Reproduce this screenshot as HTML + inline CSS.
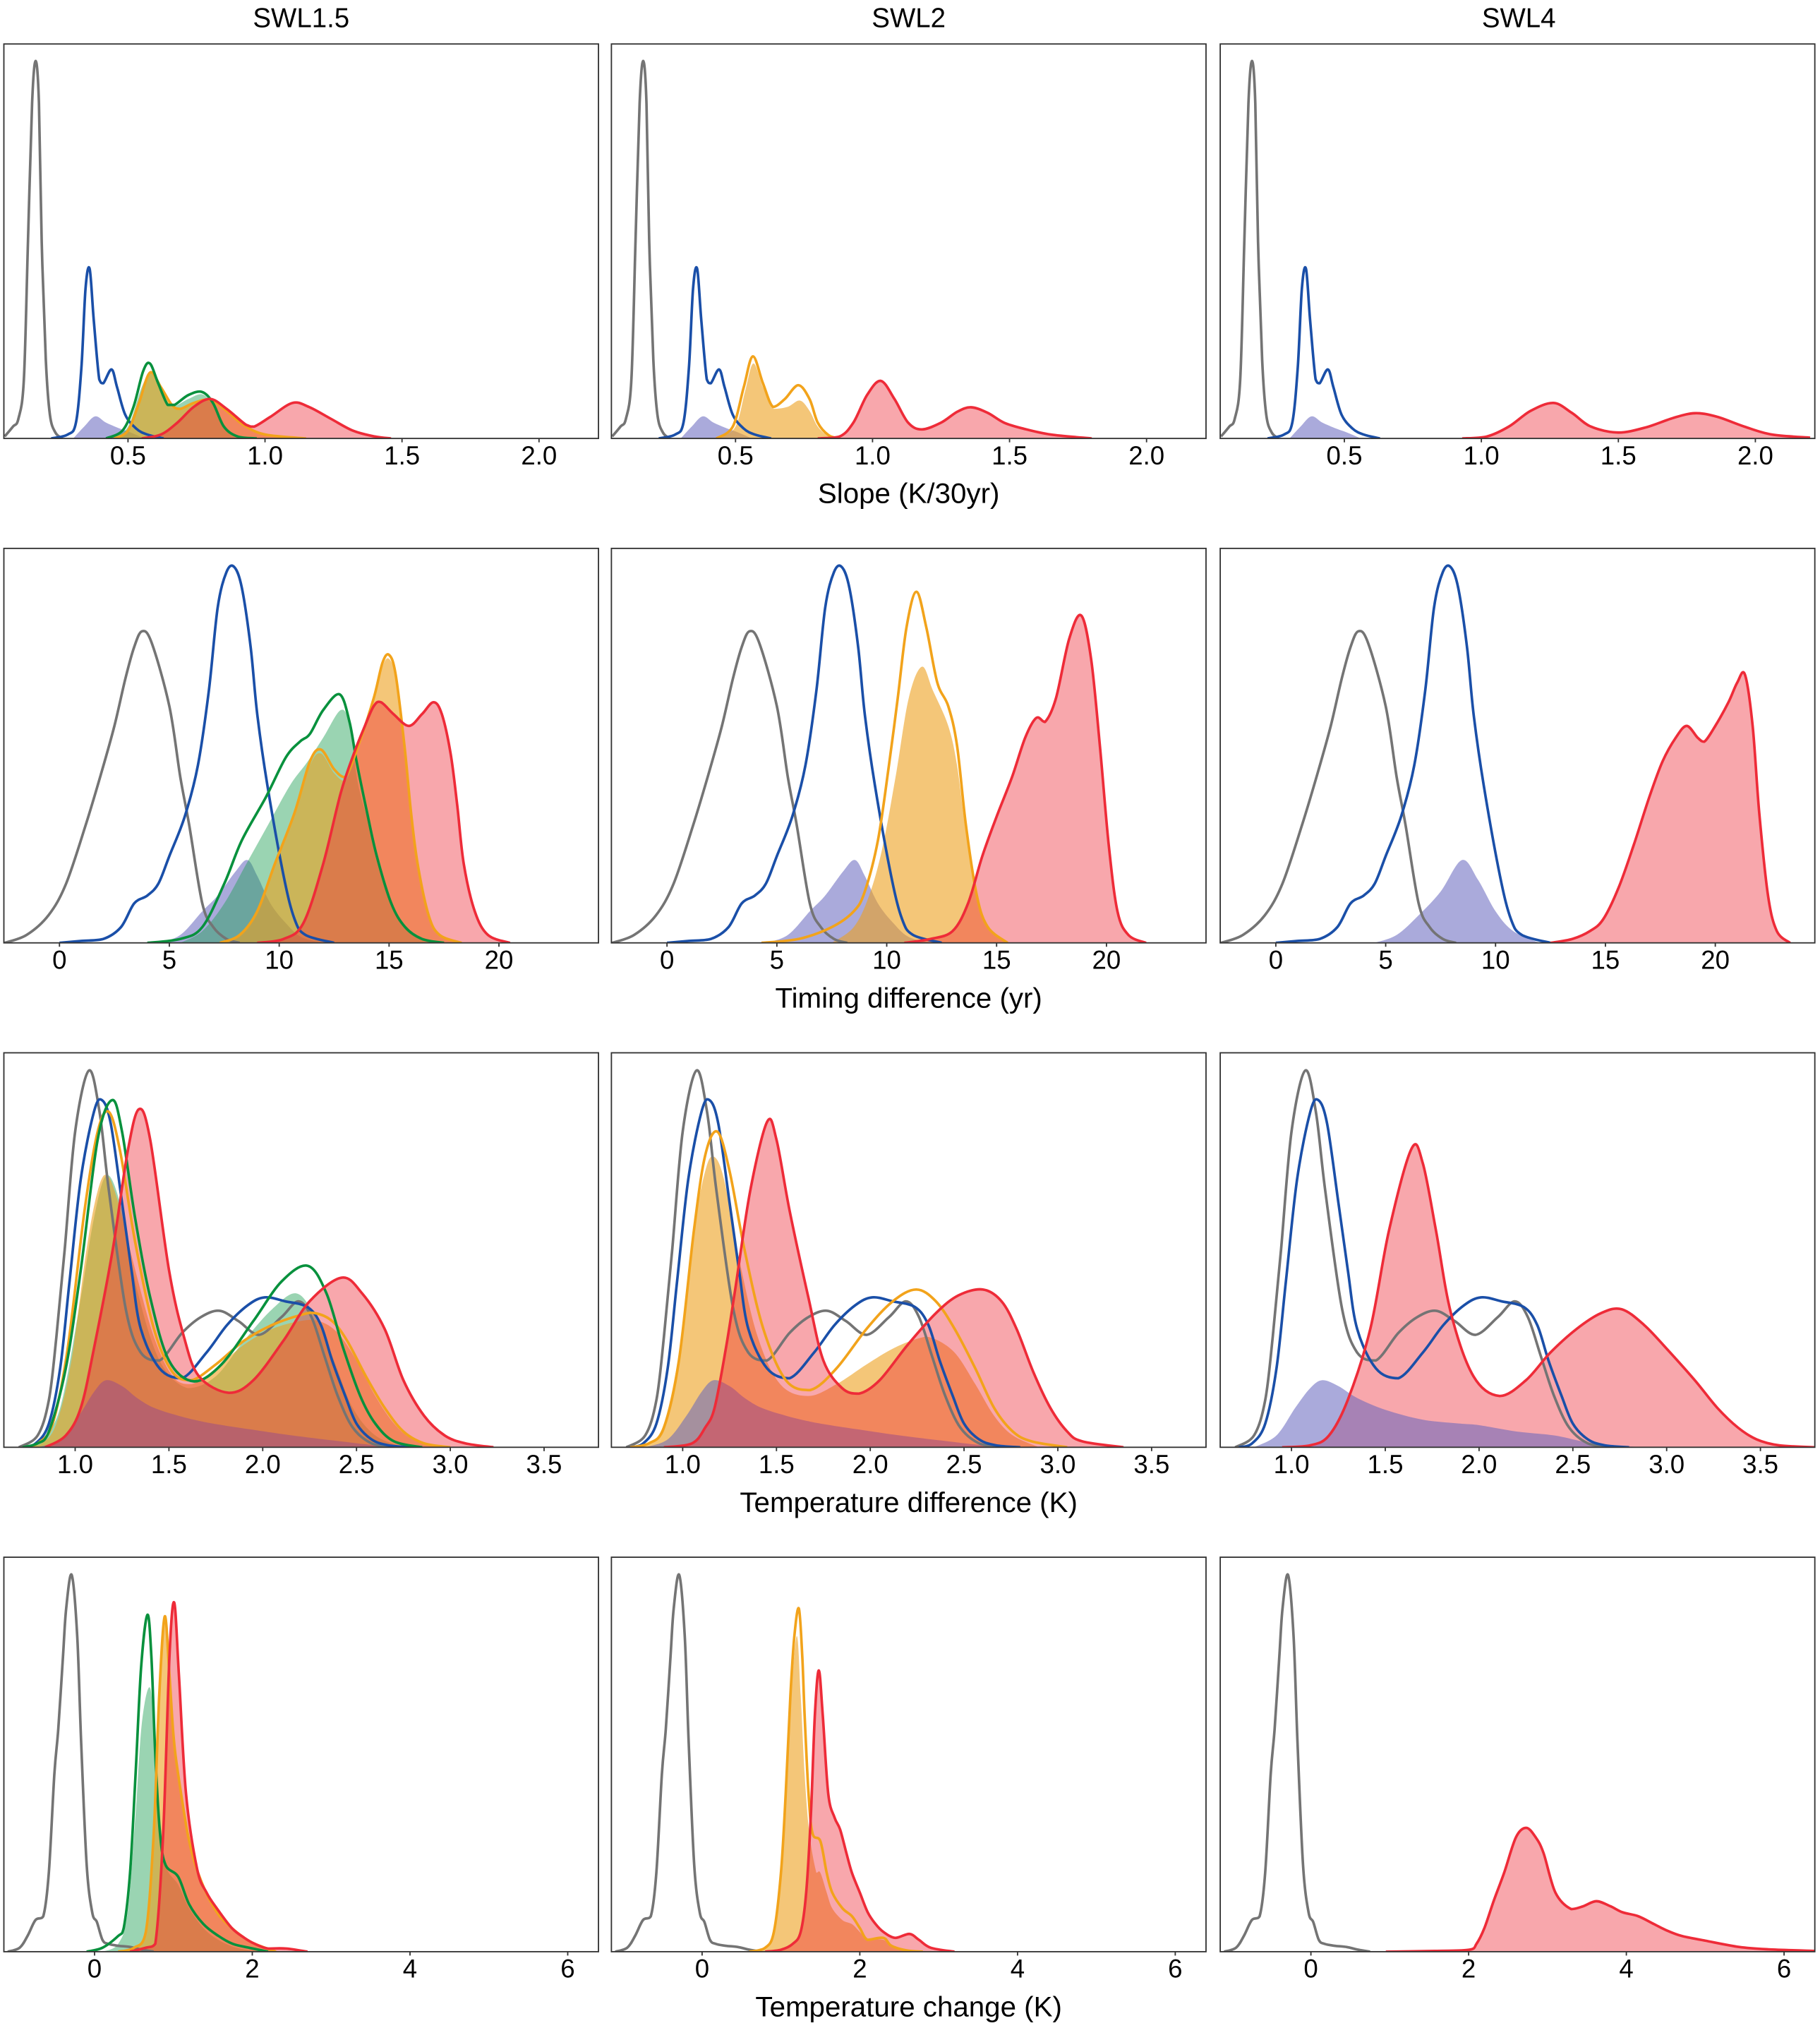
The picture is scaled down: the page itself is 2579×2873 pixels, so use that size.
<!DOCTYPE html>
<html><head><meta charset="utf-8"><title>KDE panels</title>
<style>
html,body{margin:0;padding:0;background:#fff;}
svg{display:block;}
text{font-family:"Liberation Sans Narrow","Liberation Sans",sans-serif;fill:#000;}
</style></head>
<body>
<svg id="fig" xmlns="http://www.w3.org/2000/svg" width="2579" height="2873" viewBox="0 0 1408 1568" preserveAspectRatio="none">
<rect x="0" y="0" width="1408" height="1568" fill="#fff"/>
<text x="233" y="21" font-size="21" text-anchor="middle">SWL1.5</text>
<text x="703" y="21" font-size="21" text-anchor="middle">SWL2</text>
<text x="1175" y="21" font-size="21" text-anchor="middle">SWL4</text>
<text x="703" y="389" font-size="22" text-anchor="middle">Slope (K/30yr)</text>
<text x="703" y="779" font-size="22" text-anchor="middle">Timing difference (yr)</text>
<text x="703" y="1169" font-size="22" text-anchor="middle">Temperature difference (K)</text>
<text x="703" y="1559" font-size="22" text-anchor="middle">Temperature change (K)</text>
<g id="panels"></g>
</svg>
<script>
// ---- axis domains & ticks per row ----
const row1Domain = [0.047, 2.217];
const row1Ticks = [0.5, 1.0, 1.5, 2.0];
const row1TickLabels = ["0.5", "1.0", "1.5", "2.0"];
const row2Domain = [-2.53, 24.53];
const row2Ticks = [0, 5, 10, 15, 20];
const row2TickLabels = ["0", "5", "10", "15", "20"];
const row3Domain = [0.62, 3.79];
const row3Ticks = [1.0, 1.5, 2.0, 2.5, 3.0, 3.5];
const row3TickLabels = ["1.0", "1.5", "2.0", "2.5", "3.0", "3.5"];
const row4Domain = [-1.15, 6.39];
const row4Ticks = [0, 2, 4, 6];
const row4TickLabels = ["0", "2", "4", "6"];

// ---- density series: [value, relative density] ----
const slopeGray = [[0.05,0.005],[0.08,0.03],[0.1,0.05],[0.12,0.15],[0.135,0.5],[0.15,0.85],[0.163,0.957],[0.175,0.85],[0.185,0.5],[0.2,0.2],[0.215,0.06],[0.235,0.015],[0.26,0]];
const slopeBlue = [[0.22,0],[0.28,0.01],[0.31,0.04],[0.33,0.18],[0.345,0.38],[0.36,0.43],[0.375,0.3],[0.395,0.15],[0.41,0.14],[0.44,0.175],[0.46,0.13],[0.49,0.06],[0.53,0.025],[0.57,0.01],[0.63,0]];
const slopeLav = [[0.3,0],[0.34,0.03],[0.38,0.056],[0.42,0.04],[0.47,0.025],[0.51,0.015],[0.56,0]];
const slope1GreenLine = [[0.42,0],[0.48,0.02],[0.52,0.08],[0.555,0.17],[0.58,0.19],[0.61,0.14],[0.645,0.085],[0.67,0.085],[0.72,0.11],[0.77,0.118],[0.81,0.09],[0.85,0.03],[0.9,0.005],[0.97,0]];
const slope1GreenFill = [[0.44,0],[0.5,0.03],[0.55,0.13],[0.585,0.165],[0.62,0.12],[0.66,0.08],[0.72,0.1],[0.77,0.112],[0.81,0.085],[0.85,0.03],[0.9,0.005],[0.97,0]];
const slope1Orange = [[0.45,0],[0.5,0.02],[0.54,0.09],[0.58,0.167],[0.62,0.13],[0.66,0.085],[0.69,0.075],[0.74,0.09],[0.8,0.098],[0.86,0.07],[0.92,0.035],[1.0,0.01],[1.15,0]];
const slope1Red = [[0.55,0],[0.62,0.01],[0.68,0.04],[0.74,0.08],[0.8,0.1],[0.86,0.075],[0.93,0.035],[0.96,0.03],[1.02,0.055],[1.1,0.09],[1.16,0.08],[1.24,0.05],[1.32,0.02],[1.4,0.005],[1.46,0]];
const slope2Orange = [[0.43,0],[0.49,0.03],[0.53,0.13],[0.563,0.208],[0.6,0.14],[0.637,0.08],[0.68,0.1],[0.729,0.135],[0.77,0.1],[0.8,0.04],[0.84,0.008],[0.88,0]];
const slope2OrangeFill = [[0.44,0],[0.5,0.03],[0.535,0.12],[0.565,0.19],[0.6,0.13],[0.64,0.075],[0.69,0.08],[0.735,0.096],[0.77,0.07],[0.8,0.03],[0.84,0.005],[0.88,0]];
const slope2Red = [[0.8,0],[0.88,0.005],[0.93,0.04],[0.98,0.11],[1.03,0.146],[1.08,0.1],[1.13,0.04],[1.18,0.023],[1.25,0.04],[1.31,0.068],[1.36,0.079],[1.42,0.065],[1.48,0.04],[1.55,0.025],[1.65,0.01],[1.8,0]];
const slope3Red = [[0.93,0],[1.02,0.005],[1.1,0.03],[1.18,0.07],[1.263,0.09],[1.33,0.065],[1.4,0.03],[1.5,0.015],[1.6,0.028],[1.7,0.052],[1.78,0.064],[1.86,0.055],[1.96,0.03],[2.06,0.01],[2.2,0.002]];

const timeGray = [[-2.5,0],[-1.5,0.02],[-0.5,0.07],[0.3,0.15],[1.2,0.3],[1.9,0.43],[2.5,0.55],[3.0,0.67],[3.4,0.75],[3.76,0.79],[4.2,0.76],[5.0,0.6],[5.5,0.42],[5.9,0.3],[6.5,0.1],[7.0,0.04],[7.6,0.01],[8.2,0]];
const timeBlue = [[0,0],[1.0,0.005],[2.0,0.01],[2.8,0.04],[3.4,0.1],[4.0,0.12],[4.5,0.15],[5.0,0.22],[5.7,0.32],[6.3,0.45],[6.8,0.64],[7.2,0.85],[7.6,0.94],[7.95,0.953],[8.3,0.9],[8.7,0.75],[9.0,0.58],[9.46,0.4],[10.2,0.17],[10.7,0.06],[11.2,0.02],[12.5,0]];
const timeLav = [[4.5,0],[5.5,0.02],[6.5,0.08],[7.2,0.12],[8.0,0.18],[8.55,0.21],[9.0,0.17],[9.6,0.1],[10.3,0.05],[11.0,0.015],[12,0]];
const timeLav3 = [[4.5,0],[5.5,0.02],[6.5,0.07],[7.5,0.13],[8.47,0.21],[9.2,0.16],[10.0,0.08],[10.8,0.03],[12,0]];
const time1GreenLine = [[4.0,0],[5.5,0.01],[6.5,0.04],[7.5,0.15],[8.3,0.26],[9.4,0.37],[10.3,0.47],[10.94,0.51],[11.4,0.53],[12.0,0.59],[12.75,0.63],[13.2,0.56],[13.52,0.46],[14.0,0.33],[14.44,0.22],[15.1,0.1],[15.73,0.04],[16.5,0.01],[17.5,0]];
const time1GreenFill = [[5.5,0],[6.5,0.03],[7.5,0.1],[8.5,0.2],[9.5,0.3],[10.5,0.4],[11.3,0.46],[12.0,0.52],[12.8,0.59],[13.2,0.55],[13.6,0.4],[14.2,0.28],[14.8,0.16],[15.5,0.06],[16.5,0.01],[17.5,0]];
const time1Orange = [[7.3,0],[8.2,0.02],[9.0,0.08],[9.8,0.2],[10.7,0.33],[11.4,0.46],[11.9,0.49],[12.5,0.44],[13.0,0.42],[13.6,0.5],[14.3,0.62],[14.7,0.71],[15.0,0.73],[15.3,0.68],[15.7,0.5],[16.0,0.33],[16.3,0.2],[16.8,0.07],[17.3,0.02],[18.3,0]];
const time1OrangeFill = [[7.3,0],[8.2,0.02],[9.0,0.08],[9.8,0.2],[10.7,0.33],[11.4,0.45],[11.9,0.48],[12.5,0.43],[13.0,0.41],[13.6,0.49],[14.3,0.61],[14.7,0.7],[15.0,0.72],[15.3,0.67],[15.7,0.5],[16.0,0.33],[16.3,0.2],[16.8,0.07],[17.3,0.02],[18.3,0]];
const time1Red = [[9.0,0],[10.2,0.01],[11.1,0.05],[12.0,0.2],[12.8,0.38],[13.4,0.48],[13.9,0.55],[14.3,0.6],[14.63,0.61],[15.2,0.58],[15.9,0.55],[16.5,0.58],[17.02,0.61],[17.4,0.58],[17.8,0.48],[18.1,0.35],[18.4,0.2],[18.9,0.08],[19.5,0.02],[20.5,0]];
const time2Orange = [[4.3,0],[6.0,0.01],[7.5,0.04],[8.5,0.08],[9.0,0.13],[9.6,0.26],[10.1,0.45],[10.5,0.62],[10.9,0.8],[11.35,0.89],[11.8,0.8],[12.3,0.66],[12.8,0.6],[13.2,0.5],[13.6,0.3],[14.1,0.12],[14.6,0.04],[15.5,0]];
const time2OrangeFill = [[7.5,0],[8.5,0.04],[9.2,0.12],[9.8,0.24],[10.4,0.42],[11.0,0.62],[11.6,0.7],[12.1,0.64],[12.8,0.55],[13.2,0.45],[13.6,0.28],[14.1,0.12],[14.6,0.04],[15.5,0]];
const time2Red = [[10.8,0],[12.0,0.01],[13.0,0.03],[13.7,0.1],[14.35,0.22],[15.0,0.32],[15.7,0.42],[16.3,0.52],[16.8,0.57],[17.2,0.56],[17.7,0.62],[18.3,0.77],[18.85,0.83],[19.3,0.72],[19.7,0.5],[20.1,0.25],[20.5,0.08],[21.0,0.02],[21.8,0]];
const time3Red = [[12.5,0],[13.5,0.01],[14.3,0.03],[14.9,0.06],[15.6,0.14],[16.3,0.25],[17.0,0.37],[17.6,0.46],[18.2,0.52],[18.7,0.55],[19.2,0.52],[19.5,0.51],[20.0,0.55],[20.6,0.61],[21.0,0.66],[21.35,0.68],[21.7,0.55],[22.0,0.33],[22.4,0.12],[22.8,0.03],[23.4,0]];

const tdGray = [[0.7,0],[0.8,0.03],[0.86,0.12],[0.9,0.28],[0.944,0.5],[1.0,0.8],[1.073,0.955],[1.13,0.85],[1.18,0.65],[1.27,0.35],[1.35,0.24],[1.45,0.22],[1.57,0.29],[1.67,0.33],[1.77,0.346],[1.87,0.32],[1.98,0.285],[2.1,0.33],[2.19,0.37],[2.26,0.33],[2.33,0.23],[2.4,0.13],[2.48,0.05],[2.58,0.01],[2.7,0]];
const tdBlue = [[0.72,0],[0.79,0.01],[0.86,0.06],[0.92,0.2],[0.97,0.42],[1.03,0.68],[1.1,0.85],[1.143,0.88],[1.19,0.82],[1.25,0.62],[1.3,0.45],[1.35,0.3],[1.45,0.2],[1.57,0.175],[1.7,0.24],[1.81,0.31],[1.92,0.36],[2.01,0.38],[2.12,0.37],[2.24,0.355],[2.31,0.31],[2.37,0.22],[2.44,0.13],[2.5,0.06],[2.58,0.02],[2.67,0.005],[2.8,0]];
const tdLav = [[0.8,0],[0.92,0.02],[1.02,0.08],[1.1,0.14],[1.165,0.17],[1.25,0.155],[1.33,0.125],[1.42,0.1],[1.55,0.08],[1.68,0.065],[1.8,0.055],[1.94,0.045],[2.08,0.035],[2.24,0.025],[2.4,0.016],[2.54,0.008],[2.7,0]];
const tdLav3 = [[0.8,0],[0.92,0.03],[1.02,0.1],[1.1,0.15],[1.165,0.17],[1.25,0.155],[1.35,0.125],[1.5,0.095],[1.7,0.07],[1.9,0.06],[2.0,0.056],[2.2,0.04],[2.4,0.03],[2.55,0.015],[2.7,0.005],[2.9,0]];
const td1GreenLine = [[0.72,0],[0.8,0.01],[0.86,0.04],[0.95,0.2],[1.03,0.45],[1.12,0.78],[1.197,0.88],[1.25,0.8],[1.32,0.58],[1.4,0.38],[1.5,0.22],[1.635,0.167],[1.78,0.21],[1.95,0.32],[2.1,0.42],[2.24,0.46],[2.34,0.39],[2.43,0.25],[2.52,0.13],[2.6,0.06],[2.7,0.015],[2.85,0]];
const td1GreenFill = [[0.72,0],[0.82,0.02],[0.92,0.1],[1.02,0.35],[1.1,0.58],[1.17,0.69],[1.25,0.6],[1.33,0.4],[1.45,0.22],[1.6,0.15],[1.75,0.18],[1.9,0.27],[2.05,0.35],[2.18,0.39],[2.28,0.33],[2.38,0.22],[2.48,0.1],[2.6,0.03],[2.75,0]];
const td1Orange = [[0.72,0],[0.8,0.01],[0.88,0.06],[0.96,0.25],[1.05,0.6],[1.12,0.8],[1.18,0.85],[1.24,0.75],[1.32,0.52],[1.42,0.3],[1.52,0.19],[1.62,0.17],[1.75,0.21],[1.9,0.27],[2.05,0.31],[2.2,0.335],[2.28,0.34],[2.37,0.32],[2.45,0.27],[2.55,0.18],[2.65,0.1],[2.75,0.04],[2.86,0.01],[3.0,0]];
const td1OrangeFill = [[0.72,0],[0.82,0.01],[0.9,0.06],[0.98,0.22],[1.06,0.5],[1.12,0.65],[1.17,0.69],[1.23,0.62],[1.32,0.45],[1.42,0.28],[1.52,0.18],[1.62,0.16],[1.75,0.2],[1.9,0.26],[2.05,0.3],[2.2,0.32],[2.3,0.32],[2.4,0.29],[2.5,0.22],[2.6,0.13],[2.7,0.06],[2.8,0.02],[2.95,0]];
const td1Red = [[0.84,0],[0.95,0.03],[1.03,0.1],[1.1,0.25],[1.2,0.5],[1.28,0.75],[1.34,0.857],[1.4,0.78],[1.5,0.45],[1.58,0.28],[1.66,0.18],[1.82,0.138],[1.95,0.17],[2.11,0.27],[2.25,0.37],[2.42,0.43],[2.53,0.39],[2.65,0.3],[2.75,0.17],[2.86,0.08],[2.97,0.03],[3.08,0.01],[3.23,0]];
const td2Orange = [[0.72,0],[0.82,0.01],[0.9,0.05],[0.98,0.22],[1.06,0.55],[1.12,0.74],[1.185,0.8],[1.25,0.7],[1.33,0.5],[1.43,0.3],[1.55,0.17],[1.68,0.145],[1.82,0.2],[1.98,0.3],[2.12,0.37],[2.245,0.4],[2.35,0.37],[2.45,0.3],[2.56,0.2],[2.66,0.1],[2.76,0.04],[2.86,0.015],[3.05,0]];
const td2OrangeFill = [[0.72,0],[0.82,0.01],[0.9,0.06],[0.98,0.24],[1.06,0.55],[1.12,0.7],[1.165,0.737],[1.22,0.68],[1.3,0.48],[1.4,0.28],[1.52,0.16],[1.67,0.13],[1.82,0.16],[1.98,0.21],[2.12,0.25],[2.25,0.275],[2.33,0.277],[2.45,0.24],[2.56,0.16],[2.66,0.08],[2.76,0.03],[2.9,0]];
const td2Red = [[0.9,0],[1.05,0.01],[1.12,0.05],[1.17,0.1],[1.23,0.25],[1.28,0.4],[1.36,0.65],[1.45,0.825],[1.5,0.78],[1.57,0.6],[1.67,0.38],[1.75,0.22],[1.85,0.15],[1.94,0.136],[2.05,0.17],[2.2,0.26],[2.35,0.34],[2.47,0.385],[2.6,0.4],[2.7,0.37],[2.78,0.3],[2.87,0.19],[2.96,0.1],[3.05,0.04],[3.13,0.015],[3.35,0]];
const td3Red = [[0.95,0],[1.1,0.005],[1.2,0.03],[1.3,0.12],[1.42,0.3],[1.52,0.55],[1.64,0.757],[1.7,0.72],[1.77,0.55],[1.85,0.34],[1.97,0.18],[2.11,0.13],[2.25,0.17],[2.38,0.24],[2.52,0.3],[2.65,0.34],[2.76,0.35],[2.88,0.31],[3.0,0.25],[3.15,0.17],[3.27,0.1],[3.38,0.05],[3.48,0.02],[3.6,0.005],[3.79,0]];

const tcGray = [[-1.1,0],[-0.95,0.01],[-0.85,0.04],[-0.75,0.08],[-0.65,0.09],[-0.58,0.2],[-0.51,0.45],[-0.46,0.565],[-0.4,0.75],[-0.36,0.87],[-0.29,0.955],[-0.22,0.8],[-0.17,0.53],[-0.1,0.22],[-0.03,0.1],[0.03,0.075],[0.1,0.03],[0.17,0.02],[0.3,0.015],[0.45,0.012],[0.6,0.005],[0.75,0]];
const tc1GreenLine = [[-0.1,0],[0.1,0.01],[0.3,0.04],[0.37,0.06],[0.45,0.2],[0.52,0.45],[0.59,0.72],[0.67,0.854],[0.72,0.75],[0.77,0.5],[0.83,0.3],[0.9,0.22],[1.06,0.19],[1.2,0.12],[1.38,0.07],[1.57,0.04],[1.75,0.02],[1.96,0.01],[2.2,0]];
const tc1GreenFill = [[0.1,0],[0.3,0.02],[0.42,0.1],[0.52,0.35],[0.6,0.58],[0.7,0.67],[0.76,0.55],[0.82,0.35],[0.9,0.22],[1.06,0.17],[1.2,0.11],[1.38,0.06],[1.57,0.03],[1.8,0.01],[2.1,0]];
const tc1Orange = [[0.3,0],[0.5,0.01],[0.65,0.05],[0.75,0.3],[0.82,0.65],[0.89,0.85],[0.95,0.7],[1.0,0.55],[1.06,0.45],[1.2,0.28],[1.35,0.18],[1.55,0.1],[1.74,0.06],[1.9,0.035],[2.03,0.02],[2.3,0]];
const tc1Red = [[0.45,0],[0.65,0.01],[0.77,0.02],[0.87,0.3],[0.95,0.75],[1.01,0.885],[1.07,0.7],[1.16,0.4],[1.3,0.21],[1.42,0.15],[1.55,0.11],[1.74,0.06],[1.9,0.035],[2.03,0.02],[2.2,0.008],[2.43,0.008],[2.7,0]];
const tc2Orange = [[0.6,0],[0.8,0.01],[0.91,0.05],[1.0,0.2],[1.06,0.4],[1.12,0.65],[1.17,0.8],[1.227,0.87],[1.27,0.75],[1.3,0.6],[1.35,0.4],[1.4,0.3],[1.5,0.28],[1.58,0.2],[1.65,0.15],[1.78,0.11],[1.9,0.09],[2.0,0.06],[2.1,0.03],[2.3,0.035],[2.4,0.015],[2.6,0.003],[2.8,0]];
const tc2OrangeFill = [[0.6,0],[0.8,0.01],[0.91,0.05],[1.0,0.2],[1.06,0.4],[1.12,0.62],[1.2,0.8],[1.25,0.65],[1.3,0.45],[1.36,0.3],[1.45,0.2],[1.5,0.2],[1.58,0.15],[1.65,0.11],[1.78,0.08],[1.9,0.07],[2.0,0.05],[2.1,0.03],[2.3,0.03],[2.4,0.012],[2.6,0.003],[2.8,0]];
const tc2Red = [[0.8,0],[1.0,0.005],[1.15,0.02],[1.25,0.05],[1.32,0.15],[1.38,0.35],[1.43,0.6],[1.48,0.713],[1.53,0.6],[1.6,0.4],[1.68,0.34],[1.75,0.31],[1.83,0.25],[1.9,0.2],[2.0,0.15],[2.1,0.1],[2.2,0.07],[2.3,0.05],[2.45,0.035],[2.63,0.045],[2.75,0.03],[2.9,0.01],[3.2,0]];
const tc3Red = [[0.95,0],[1.6,0.002],[2.01,0.005],[2.1,0.02],[2.2,0.06],[2.32,0.13],[2.45,0.2],[2.6,0.29],[2.73,0.314],[2.85,0.29],[2.95,0.25],[3.1,0.15],[3.3,0.108],[3.45,0.115],[3.62,0.128],[3.8,0.115],[3.95,0.1],[4.15,0.09],[4.35,0.07],[4.5,0.055],[4.7,0.04],[5.0,0.028],[5.43,0.012],[5.8,0.006],[6.39,0.002]];

const colX = [3, 473, 944];
const rowY = [34, 424, 814, 1204];
const PW = 460, PH = 305;
const COLORS = {
  gray: "#747474", blue: "#1a4fa8", green: "#08913d", orange: "#f2a31b", red: "#ee2b38",
  lavFill: "rgba(100,100,190,0.55)", greenFill: "rgba(30,160,85,0.45)",
  orangeFill: "rgba(236,160,30,0.6)", redFill: "rgba(238,45,58,0.42)"
};

const rows = [
  {domain: row1Domain, ticks: row1Ticks, labels: row1TickLabels, name: "slope"},
  {domain: row2Domain, ticks: row2Ticks, labels: row2TickLabels, name: "timing"},
  {domain: row3Domain, ticks: row3Ticks, labels: row3TickLabels, name: "temp-diff"},
  {domain: row4Domain, ticks: row4Ticks, labels: row4TickLabels, name: "temp-change"}
];
const colNames = ["swl1-5", "swl2", "swl4"];

const panelSeries = [
  [
    [{d: slopeLav, k: "fill", c: "lavFill", n: "lavender-fill"}, {d: slope1GreenFill, k: "fill", c: "greenFill", n: "green-fill"}, {d: slope1Orange, k: "fill", c: "orangeFill", n: "orange-fill"}, {d: slope1Red, k: "fill", c: "redFill", n: "red-fill"},
     {d: slopeGray, k: "line", c: "gray", n: "gray-line"}, {d: slopeBlue, k: "line", c: "blue", n: "blue-line"}, {d: slope1Orange, k: "line", c: "orange", n: "orange-line"}, {d: slope1GreenLine, k: "line", c: "green", n: "green-line"}, {d: slope1Red, k: "line", c: "red", n: "red-line"}],
    [{d: slopeLav, k: "fill", c: "lavFill", n: "lavender-fill"}, {d: slope2OrangeFill, k: "fill", c: "orangeFill", n: "orange-fill"}, {d: slope2Red, k: "fill", c: "redFill", n: "red-fill"},
     {d: slopeGray, k: "line", c: "gray", n: "gray-line"}, {d: slopeBlue, k: "line", c: "blue", n: "blue-line"}, {d: slope2Orange, k: "line", c: "orange", n: "orange-line"}, {d: slope2Red, k: "line", c: "red", n: "red-line"}],
    [{d: slopeLav, k: "fill", c: "lavFill", n: "lavender-fill"}, {d: slope3Red, k: "fill", c: "redFill", n: "red-fill"},
     {d: slopeGray, k: "line", c: "gray", n: "gray-line"}, {d: slopeBlue, k: "line", c: "blue", n: "blue-line"}, {d: slope3Red, k: "line", c: "red", n: "red-line"}]
  ],
  [
    [{d: timeLav, k: "fill", c: "lavFill", n: "lavender-fill"}, {d: time1GreenFill, k: "fill", c: "greenFill", n: "green-fill"}, {d: time1OrangeFill, k: "fill", c: "orangeFill", n: "orange-fill"}, {d: time1Red, k: "fill", c: "redFill", n: "red-fill"},
     {d: timeGray, k: "line", c: "gray", n: "gray-line"}, {d: timeBlue, k: "line", c: "blue", n: "blue-line"}, {d: time1GreenLine, k: "line", c: "green", n: "green-line"}, {d: time1Orange, k: "line", c: "orange", n: "orange-line"}, {d: time1Red, k: "line", c: "red", n: "red-line"}],
    [{d: timeLav, k: "fill", c: "lavFill", n: "lavender-fill"}, {d: time2OrangeFill, k: "fill", c: "orangeFill", n: "orange-fill"}, {d: time2Red, k: "fill", c: "redFill", n: "red-fill"},
     {d: timeGray, k: "line", c: "gray", n: "gray-line"}, {d: timeBlue, k: "line", c: "blue", n: "blue-line"}, {d: time2Orange, k: "line", c: "orange", n: "orange-line"}, {d: time2Red, k: "line", c: "red", n: "red-line"}],
    [{d: timeLav3, k: "fill", c: "lavFill", n: "lavender-fill"}, {d: time3Red, k: "fill", c: "redFill", n: "red-fill"},
     {d: timeGray, k: "line", c: "gray", n: "gray-line"}, {d: timeBlue, k: "line", c: "blue", n: "blue-line"}, {d: time3Red, k: "line", c: "red", n: "red-line"}]
  ],
  [
    [{d: td1GreenFill, k: "fill", c: "greenFill", n: "green-fill"}, {d: td1OrangeFill, k: "fill", c: "orangeFill", n: "orange-fill"}, {d: tdLav, k: "fill", c: "lavFill", n: "lavender-fill"}, {d: td1Red, k: "fill", c: "redFill", n: "red-fill"},
     {d: tdGray, k: "line", c: "gray", n: "gray-line"}, {d: tdBlue, k: "line", c: "blue", n: "blue-line"}, {d: td1Orange, k: "line", c: "orange", n: "orange-line"}, {d: td1GreenLine, k: "line", c: "green", n: "green-line"}, {d: td1Red, k: "line", c: "red", n: "red-line"}],
    [{d: td2OrangeFill, k: "fill", c: "orangeFill", n: "orange-fill"}, {d: tdLav, k: "fill", c: "lavFill", n: "lavender-fill"}, {d: td2Red, k: "fill", c: "redFill", n: "red-fill"},
     {d: tdGray, k: "line", c: "gray", n: "gray-line"}, {d: tdBlue, k: "line", c: "blue", n: "blue-line"}, {d: td2Orange, k: "line", c: "orange", n: "orange-line"}, {d: td2Red, k: "line", c: "red", n: "red-line"}],
    [{d: td3Red, k: "fill", c: "redFill", n: "red-fill"}, {d: tdLav3, k: "fill", c: "lavFill", n: "lavender-fill"},
     {d: tdGray, k: "line", c: "gray", n: "gray-line"}, {d: tdBlue, k: "line", c: "blue", n: "blue-line"}, {d: td3Red, k: "line", c: "red", n: "red-line"}]
  ],
  [
    [{d: tc1GreenFill, k: "fill", c: "greenFill", n: "green-fill"}, {d: tc1Orange, k: "fill", c: "orangeFill", n: "orange-fill"}, {d: tc1Red, k: "fill", c: "redFill", n: "red-fill"},
     {d: tcGray, k: "line", c: "gray", n: "gray-line"}, {d: tc1GreenLine, k: "line", c: "green", n: "green-line"}, {d: tc1Orange, k: "line", c: "orange", n: "orange-line"}, {d: tc1Red, k: "line", c: "red", n: "red-line"}],
    [{d: tc2OrangeFill, k: "fill", c: "orangeFill", n: "orange-fill"}, {d: tc2Red, k: "fill", c: "redFill", n: "red-fill"},
     {d: tcGray, k: "line", c: "gray", n: "gray-line"}, {d: tc2Orange, k: "line", c: "orange", n: "orange-line"}, {d: tc2Red, k: "line", c: "red", n: "red-line"}],
    [{d: tc3Red, k: "fill", c: "redFill", n: "red-fill"},
     {d: tcGray, k: "line", c: "gray", n: "gray-line"}, {d: tc3Red, k: "line", c: "red", n: "red-line"}]
  ]
];

const NS = "http://www.w3.org/2000/svg";
const root = document.getElementById("panels");

function mk(tag, attrs) {
  const e = document.createElementNS(NS, tag);
  for (const k in attrs) e.setAttribute(k, attrs[k]);
  return e;
}

function smoothPath(pts) {
  let d = "M" + pts[0][0].toFixed(2) + "," + pts[0][1].toFixed(2);
  for (let i = 0; i < pts.length - 1; i++) {
    const p0 = pts[i - 1] || pts[i], p1 = pts[i], p2 = pts[i + 1], p3 = pts[i + 2] || p2;
    const t = 6;
    const c1x = p1[0] + (p2[0] - p0[0]) / t, c1y = p1[1] + (p2[1] - p0[1]) / t;
    const c2x = p2[0] - (p3[0] - p1[0]) / t, c2y = p2[1] - (p3[1] - p1[1]) / t;
    const bottom = Math.max(p1[1], p2[1]);
    d += " C" + c1x.toFixed(2) + "," + Math.min(c1y, bottom).toFixed(2) + " " + c2x.toFixed(2) + "," + Math.min(c2y, bottom).toFixed(2) + " " + p2[0].toFixed(2) + "," + p2[1].toFixed(2);
  }
  return d;
}

for (let r = 0; r < 4; r++) {
  const row = rows[r];
  for (let c = 0; c < 3; c++) {
    const x0 = colX[c], y0 = rowY[r];
    const xs = v => x0 + (v - row.domain[0]) / (row.domain[1] - row.domain[0]) * PW;
    const ys = v => y0 + PH - v * PH;
    const g = mk("g", {});
    
    
    const clipId = "clip" + r + c;
    const cp = mk("clipPath", {id: clipId});
    cp.appendChild(mk("rect", {x: x0, y: y0, width: PW, height: PH}));
    g.appendChild(cp);
    const plot = mk("g", {"clip-path": "url(#" + clipId + ")"});
    for (const s of panelSeries[r][c]) {
      const pts = s.d.map(p => [xs(p[0]), ys(p[1])]);
      const base = ys(0);
      let el;
      if (s.k === "fill") {
        let d = smoothPath(pts);
        d += " L" + pts[pts.length - 1][0].toFixed(2) + "," + base + " L" + pts[0][0].toFixed(2) + "," + base + " Z";
        el = mk("path", {d: d, fill: COLORS[s.c], stroke: "none"});
      } else {
        el = mk("path", {d: smoothPath(pts), fill: "none", stroke: COLORS[s.c], "stroke-width": 2, "stroke-linejoin": "round"});
      }
      
      
      plot.appendChild(el);
    }
    g.appendChild(plot);
    const frame = mk("rect", {x: x0, y: y0, width: PW, height: PH, fill: "none", stroke: "#333", "stroke-width": 1});
    
    
    g.appendChild(frame);
    row.ticks.forEach((t, i) => {
      const tx = xs(t);
      const tk = mk("line", {x1: tx, x2: tx, y1: y0 + PH, y2: y0 + PH + 3, stroke: "#333", "stroke-width": 1});
      
      
      g.appendChild(tk);
      const lb = mk("text", {x: tx, y: y0 + PH + 20, "font-size": 20, "text-anchor": "middle"});
      lb.textContent = row.labels[i];
      
      
      g.appendChild(lb);
    });
    root.appendChild(g);
  }
}
</script>
</body></html>
